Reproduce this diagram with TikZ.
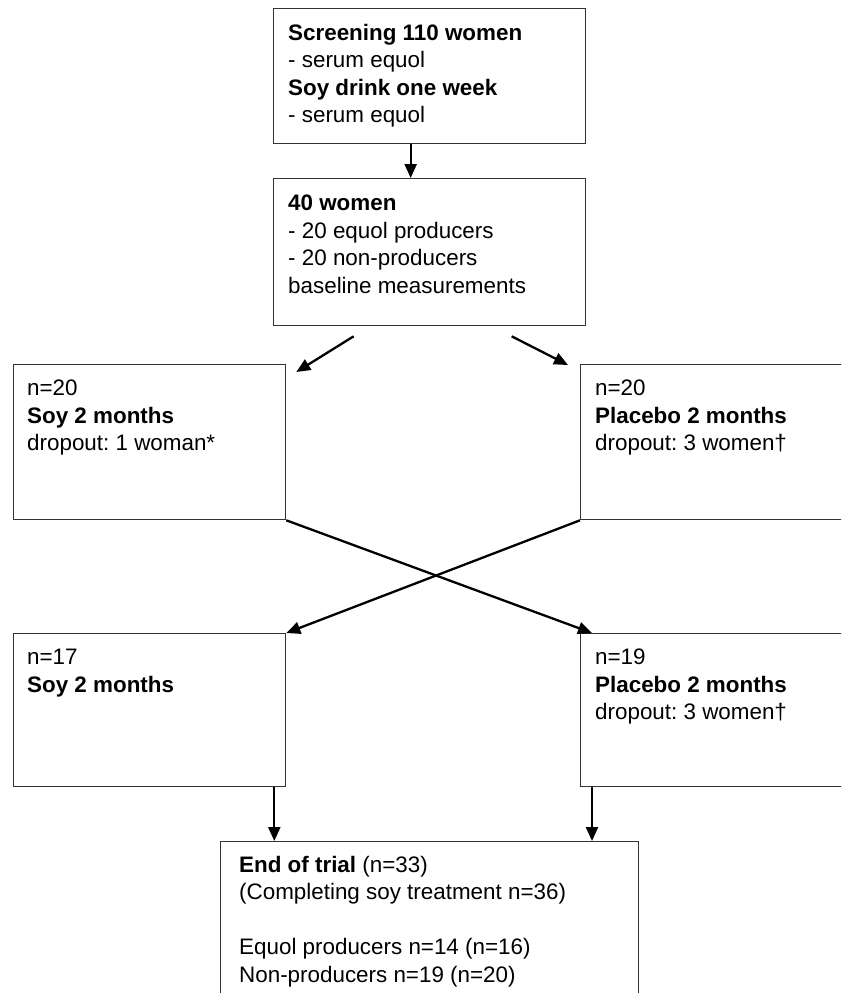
\documentclass[tikz,border=0pt]{standalone}
\usepackage{fontspec}
\setmainfont{Liberation Sans}
\usetikzlibrary{arrows.meta}
\frenchspacing

\begin{document}
\begin{tikzpicture}[x=1pt, y=-1pt]
    \tikzstyle{stage}=[draw=black!80, line width=1.3pt, anchor=north west, inner sep=0pt]
    \tikzstyle{info}=[anchor=north west, inner sep=0pt, align=left,
      font=\fontsize{22.4}{27.5}\selectfont]
    \tikzstyle{flow}=[line width=2.3pt, -{Triangle[length=14pt, width=12pt]}]

    \useasboundingbox (0, 0) rectangle (841, 993);
    \clip (0, 0) rectangle (841, 993);

    % Screening
    \node[stage, minimum width=312, minimum height=135] (screen) at (273, 8) {};
    \node[info] (screentxt) at ([shift={(15, 16)}]screen.north west)
      {\textbf{Screening 110 women}\\- serum equol\\
       \textbf{Soy drink one week}\\- serum equol};

    % Baseline
    \node[stage, minimum width=312, minimum height=147] (base) at (273, 178) {};
    \node[info] (basetxt) at ([shift={(15, 17)}]base.north west)
      {\textbf{40 women}\\- 20 equol producers\\- 20 non-producers\\
       baseline measurements};

    % First period
    \node[stage, minimum width=272, minimum height=155] (soyA) at (13, 364) {};
    \node[info] (soyAtxt) at ([shift={(14, 16)}]soyA.north west)
      {n=20\\\textbf{Soy 2 months}\\dropout: 1 woman*};
    \node[stage, minimum width=300, minimum height=155] (plA) at (580, 364) {};
    \node[info] (plAtxt) at ([shift={(15, 16)}]plA.north west)
      {n=20\\\textbf{Placebo 2 months}\\dropout: 3 women†};

    % Second period
    \node[stage, minimum width=272, minimum height=153] (soyB) at (13, 633) {};
    \node[info] (soyBtxt) at ([shift={(14, 16)}]soyB.north west)
      {n=17\\\textbf{Soy 2 months}};
    \node[stage, minimum width=300, minimum height=153] (plB) at (580, 633) {};
    \node[info] (plBtxt) at ([shift={(15, 16)}]plB.north west)
      {n=19\\\textbf{Placebo 2 months}\\dropout: 3 women†};

    % End of trial
    \node[stage, minimum width=418, minimum height=170] (endbox) at (220, 841) {};
    \node[info] (endtxt) at ([shift={(19, 15)}]endbox.north west)
      {\textbf{End of trial} (n=33)\\(Completing soy treatment n=36)\\[27.5pt]
       Equol producers n=14 (n=16)\\Non-producers n=19 (n=20)};

    % Arrows
    \draw[flow] ([shift={(-19, 0)}]screen.south) -- ([shift={(-19, 0)}]base.north);
    \draw[flow] ([shift={(-76, 10)}]base.south) -- ([shift={(10, 8)}]soyA.north east);
    \draw[flow] ([shift={(82, 10)}]base.south) -- ([shift={(-12, 1)}]plA.north west);
    \draw[flow] (soyA.south east) -- ([shift={(12, 0)}]plB.north west);
    \draw[flow] (plA.south west) -- (soyB.north east);
    \draw[flow] ([shift={(-12, 0)}]soyB.south east) -- ([shift={(-12, 0)}]soyB.south east |- endbox.north);
    \draw[flow] ([shift={(12, 0)}]plB.south west) -- ([shift={(12, 0)}]plB.south west |- endbox.north);
  \end{tikzpicture}
\end{document}
